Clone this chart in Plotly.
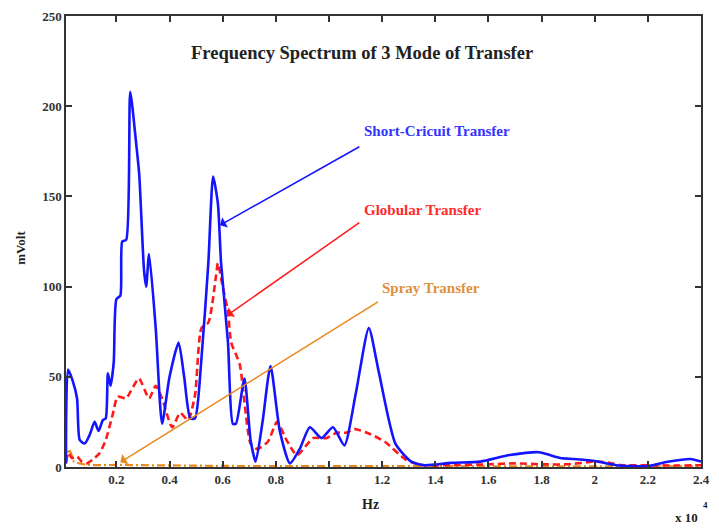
import plotly.graph_objects as go

# Frequency axis in units of 1e4 Hz, amplitude in mVolt
short_circuit_hz = [0.0104, 0.018, 0.035, 0.052, 0.062, 0.081, 0.1, 0.118, 0.133, 0.149, 0.16,
                    0.168, 0.178, 0.19, 0.2, 0.215, 0.222, 0.237, 0.252, 0.274, 0.286, 0.304,
                    0.312, 0.323, 0.348, 0.372, 0.4, 0.434, 0.455, 0.478, 0.496, 0.52, 0.546,
                    0.564, 0.582, 0.594, 0.62, 0.638, 0.65, 0.682, 0.705, 0.724, 0.75, 0.78,
                    0.815, 0.853, 0.89, 0.928, 0.972, 1.015, 1.058, 1.1, 1.15, 1.187, 1.25,
                    1.31, 1.36, 1.46, 1.57, 1.68, 1.79, 1.87, 1.92, 2.0, 2.08, 2.2, 2.28,
                    2.36, 2.4]
short_circuit_mv = [2, 54, 48, 38, 15, 13, 18, 25, 20, 26, 27,
                    52, 45, 58, 93, 95, 125, 126, 208, 180, 162, 109,
                    100, 118, 77, 24, 50, 69, 50, 27, 27, 60, 113,
                    161, 146, 113, 69, 24, 24, 49, 15, 3, 25, 56,
                    20, 2, 10, 22, 16, 22, 12, 40, 77, 53, 13,
                    3, 1, 2.3, 3, 6.6, 8.2, 5, 4.4, 3.3, 1, 0.5, 3,
                    4.4, 3]

globular_hz = [0.0104, 0.02, 0.032, 0.05, 0.07, 0.088, 0.11, 0.137, 0.16, 0.186, 0.205,
               0.236, 0.254, 0.285, 0.323, 0.348, 0.372, 0.41, 0.44, 0.47, 0.496, 0.52,
               0.546, 0.575, 0.582, 0.6, 0.62, 0.632, 0.664, 0.705, 0.73, 0.77, 0.805,
               0.84, 0.88, 0.94, 0.99, 1.03, 1.065, 1.096, 1.15, 1.21, 1.29, 1.35, 1.45,
               1.6, 1.7, 1.8, 1.9, 2.0, 2.05, 2.1, 2.2, 2.3, 2.4]
globular_mv = [3, 8, 5, 6, 3, 2, 4, 7.7, 15, 29, 39,
               38, 42, 49, 38, 45, 38, 22, 30, 26, 40, 77,
               80, 106, 113, 100, 86, 69, 57, 13, 10, 14, 25,
               15, 6.6, 16, 16, 19, 19, 21, 18.6, 14, 4, 1.1, 1,
               1.5, 2, 1.5, 1.5, 3, 2.5, 1, 1, 0.8, 1]

spray_hz = [0.0104, 0.02, 0.028, 0.04, 0.06, 0.09, 0.13, 0.2, 0.3, 0.4, 0.5, 0.7, 1.0,
            1.4, 1.8, 2.4]
spray_mv = [2, 10, 8, 3, 2, 1.2, 1, 1.2, 1, 0.8, 0.6, 0.5, 0.5, 0.4, 0.4, 0.3]

x_ticks = [0.2, 0.4, 0.6, 0.8, 1.0, 1.2, 1.4, 1.6, 1.8, 2.0, 2.2, 2.4]
x_tick_text = ["0.2", "0.4", "0.6", "0.8", "1", "1.2", "1.4", "1.6", "1.8", "2", "2.2", "2.4"]
y_ticks = [0, 50, 100, 150, 200, 250]

BLUE = "#1414ff"
RED = "#ff1a1a"
ORANGE = "#e8891c"
SERIF = "Liberation Serif"

fig = go.Figure()
fig.add_trace(go.Scatter(x=spray_hz, y=spray_mv, mode="lines",
                         line=dict(color=ORANGE, width=2.2, dash="8px,3px,2px,3px")))
fig.add_trace(go.Scatter(x=globular_hz, y=globular_mv, mode="lines",
                         line=dict(color=RED, width=2.6, dash="7px,4px", shape="spline",
                                   smoothing=0.6)))
fig.add_trace(go.Scatter(x=short_circuit_hz, y=short_circuit_mv, mode="lines",
                         line=dict(color=BLUE, width=2.6, shape="spline", smoothing=0.6)))

axis_common = dict(showline=True, linecolor="#333333", linewidth=1.5, mirror="ticks",
                   ticks="inside", ticklen=6, tickcolor="#333333", tickwidth=1.5,
                   showgrid=False,
                   tickfont=dict(family=SERIF, size=13, color="#333333", weight="bold"))

fig.update_xaxes(range=[0.0104, 2.4], tickvals=x_ticks, ticktext=x_tick_text,
                 zeroline=False, **axis_common)
fig.update_yaxes(range=[0, 250], tickvals=y_ticks, zeroline=True, zerolinecolor=BLUE,
                 zerolinewidth=2, **axis_common)

def label(text, x, y, color, size=13, xanchor="center", **kw):
    fig.add_annotation(text=text, x=x, y=y, xref="paper", yref="paper", showarrow=False,
                       xanchor=xanchor, yanchor="middle",
                       font=dict(family=SERIF, size=size, color=color, weight="bold"), **kw)

label("Frequency Spectrum of 3 Mode of Transfer", 0.466, 0.917, "#222222", size=18.5)
label("Short-Cricuit Transfer", 0.466, 0.746, "#3333ff", size=15, xanchor="left")
label("Globular Transfer", 0.466, 0.569, "#ff2a2a", size=15, xanchor="left")
label("Spray Transfer", 0.494, 0.396, "#e0903a", size=15, xanchor="left")
label("Hz", 0.48, -0.083, "#222222", size=14)
label("mVolt", -0.071, 0.486, "#222222", textangle=-90)
label("x 10", 0.998, -0.112, "#222222", xanchor="right")
label("4", 1.0, -0.085, "#222222", size=9, xanchor="left")

# Pointer arrows from each caption to its curve
def pointer(tip_x, tip_y, tail_x, tail_y, color):
    fig.add_annotation(x=tip_x, y=tip_y, ax=tail_x, ay=tail_y, xref="x", yref="y",
                       axref="x", ayref="y", text="", showarrow=True, arrowhead=1,
                       arrowsize=1.3, arrowwidth=1.5, arrowcolor=color)

pointer(0.59, 134, 1.12, 178, BLUE)
pointer(0.616, 84, 1.12, 136, RED)
pointer(0.215, 2.7, 1.19, 92, ORANGE)

fig.update_layout(width=719, height=529, showlegend=False,
                  paper_bgcolor="white", plot_bgcolor="white",
                  margin=dict(l=66, r=9, t=10, b=62))

fig.write_html("out.html")
